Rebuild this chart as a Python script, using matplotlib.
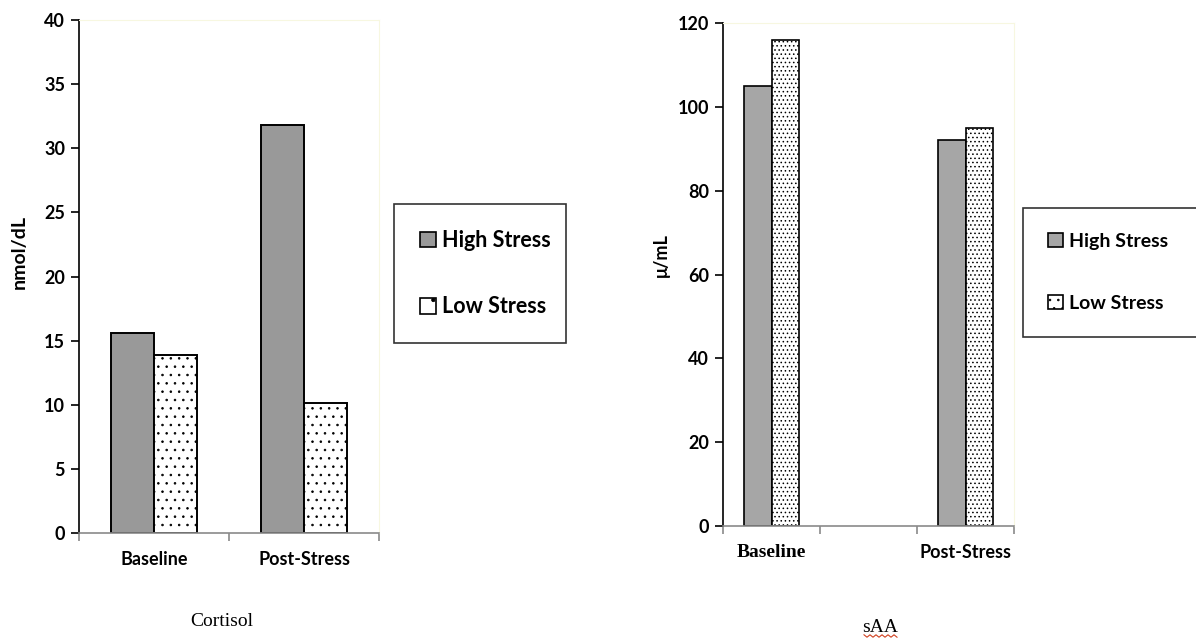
import matplotlib
matplotlib.use("Agg")
import matplotlib.pyplot as plt
import numpy as np
from matplotlib.patches import Patch
from matplotlib.lines import Line2D

# ---- data ----
cort_categories = ["Baseline", "Post-Stress"]
cort_high = [15.6, 31.8]
cort_low = [13.9, 10.1]
cort_yticks = [0, 5, 10, 15, 20, 25, 30, 35, 40]

saa_categories = ["Baseline", "", "Post-Stress"]
saa_high = [105.0, None, 92.0]
saa_low = [116.0, None, 95.0]
saa_yticks = [0, 20, 40, 60, 80, 100, 120]

series_labels = ["High Stress", "Low Stress"]

SANS = ["Lato", "DejaVu Sans"]
SERIF = ["Liberation Serif", "DejaVu Serif"]
plt.rcParams['font.family'] = SANS
plt.rcParams['font.weight'] = 'bold'
plt.rcParams['hatch.linewidth'] = 0.6

W, H = 1196, 638
fig = plt.figure(figsize=(W / 100, H / 100), dpi=100)
fig.patch.set_facecolor("white")


def px_axes(x0, y0, x1, y1):
    return fig.add_axes([x0 / W, 1 - y1 / H, (x1 - x0) / W, (y1 - y0) / H])


def style_axes(ax):
    ax.spines['top'].set_color('#f7f7e0')
    ax.spines['right'].set_color('#f7f7e0')
    ax.spines['left'].set_color('black')
    ax.spines['left'].set_linewidth(1.2)
    ax.spines['bottom'].set_color('#8a8a8a')
    ax.spines['bottom'].set_linewidth(1.2)
    ax.tick_params(axis='y', direction='out', length=6, width=1.2, color='black',
                   labelsize=13, pad=4)
    ax.tick_params(axis='x', which='major', direction='out', length=6, width=1.2,
                   color='#8a8a8a', labelbottom=False)
    ax.tick_params(axis='x', which='minor', length=0, labelsize=13, pad=13)


# ---- left: Cortisol ----
ax1 = px_axes(79, 20, 379, 533)
x1 = np.arange(len(cort_categories))
bw1 = 0.287
ax1.bar(x1 - bw1 / 2, cort_high, bw1, color='#999999', edgecolor='black', linewidth=1.4)
ax1.bar(x1 + bw1 / 2, cort_low, bw1, color='white', edgecolor='black', linewidth=1.4,
        hatch='..')
ax1.set_xlim(-0.5, len(cort_categories) - 0.5)
ax1.set_ylim(0, 40)
ax1.set_yticks(cort_yticks)
ax1.set_xticks(np.arange(-0.5, len(cort_categories)), minor=False)
ax1.set_xticks(x1, cort_categories, minor=True)
style_axes(ax1)
fig.text(19 / W, 1 - 252 / H, "nmol/dL", rotation=90, ha='center', va='center',
         fontsize=14, fontweight='bold', family=SANS)
fig.text(222 / W, 1 - 622 / H, "Cortisol", ha='center', va='center',
         fontsize=14, fontweight='normal', family=SERIF)

handles1 = [Patch(facecolor='#999999', edgecolor='black', linewidth=1.2),
            Patch(facecolor='white', edgecolor='black', linewidth=1.2, hatch='.')]
leg1 = fig.legend(handles1, series_labels, loc='lower left',
                  bbox_to_anchor=(394 / W, 1 - 343 / H, 172 / W, 138 / H),
                  mode='expand', borderaxespad=0, frameon=True, fancybox=False,
                  edgecolor='black', prop={'weight': 'bold', 'size': 15.5},
                  labelspacing=2.1, borderpad=1.2, handlelength=0.75, handleheight=0.75,
                  handletextpad=0.3)
leg1.get_frame().set_linewidth(1.2)

# ---- right: sAA ----
ax2 = px_axes(723, 23, 1014, 526)
x2 = np.arange(len(saa_categories))
bw2 = 0.285
hi = [np.nan if v is None else v for v in saa_high]
lo = [np.nan if v is None else v for v in saa_low]
ax2.bar(x2 - bw2 / 2, hi, bw2, color='#a6a6a6', edgecolor='black', linewidth=1.2)
ax2.bar(x2 + bw2 / 2, lo, bw2, color='white', edgecolor='black', linewidth=1.2,
        hatch='....')
ax2.set_xlim(-0.5, len(saa_categories) - 0.5)
ax2.set_ylim(0, 120)
ax2.set_yticks(saa_yticks)
ax2.set_xticks(np.arange(-0.5, len(saa_categories)), minor=False)
ax2.set_xticks(x2, saa_categories, minor=True)
style_axes(ax2)
mlabs = ax2.get_xticklabels(minor=True)
mlabs[0].set_fontfamily(SERIF)
mlabs[0].set_fontweight('bold')
mlabs[0].set_fontsize(14)
fig.text(661 / W, 1 - 255 / H, "μ/mL", rotation=90, ha='center', va='center',
         fontsize=13, fontweight='bold', family=SANS)
fig.text(880 / W, 1 - 628 / H, "sAA", ha='center', va='center',
         fontsize=14, fontweight='normal', family=SERIF)
# red spell-check squiggle under "sAA"
zx = np.linspace(864, 897, 12)
zy = 636 + np.where(np.arange(12) % 2 == 0, -1.2, 1.2)
fig.add_artist(Line2D(zx / W, 1 - zy / H, color='#d04020', linewidth=0.8))

handles2 = [Patch(facecolor='#a6a6a6', edgecolor='black', linewidth=1.2),
            Patch(facecolor='white', edgecolor='black', linewidth=1.2, hatch='..')]
leg2 = fig.legend(handles2, series_labels, loc='lower left',
                  bbox_to_anchor=(1023 / W, 1 - 337 / H, 200 / W, 130 / H),
                  mode='expand', borderaxespad=0, frameon=True, fancybox=False,
                  edgecolor='black', prop={'weight': 'bold', 'size': 14},
                  labelspacing=2.3, borderpad=1.3, handlelength=0.75, handleheight=0.75,
                  handletextpad=0.3)
leg2.get_frame().set_linewidth(1.2)

fig.savefig("out.png", dpi=100, facecolor="white")
